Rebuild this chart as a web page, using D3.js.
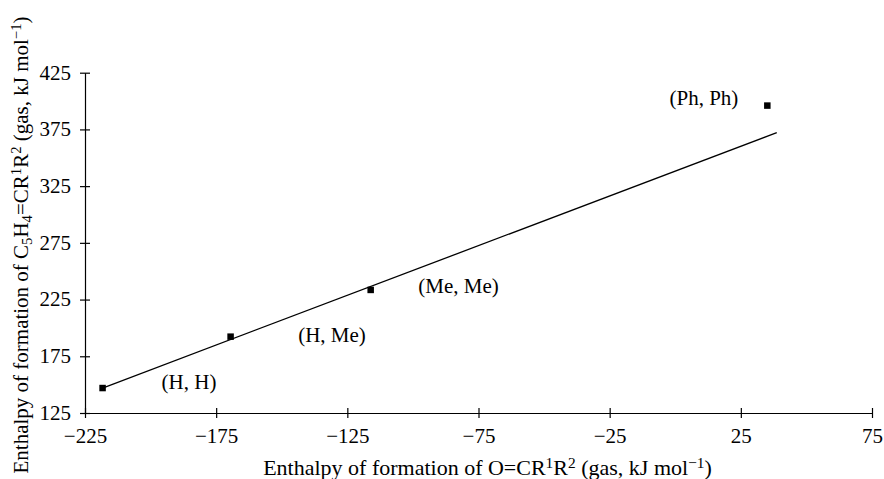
<!DOCTYPE html>
<html>
<head>
<meta charset="utf-8">
<script src="https://cdn.jsdelivr.net/npm/d3@7"></script>
<style>
  html, body { margin: 0; padding: 0; background: #fff; }
  svg text { font-family: "Liberation Serif", "Times New Roman", serif; fill: #000; }
</style>
</head>
<body>
<svg id="chart" width="884" height="479"></svg>
<script>
// ---- data ----
const pointLabels = ["(H, H)", "(H, Me)", "(Me, Me)", "(Ph, Ph)"];
const carbonylH = [-218.3, -169.5, -116.1, 35.1];      // x: O=CR1R2
const fulveneH  = [147.0, 192.3, 233.5, 396.0];        // y: C5H4=CR1R2
const trendX = [-218.3, 38.7];
const trendY = [147.0, 372.2];
const xTicks = [-225, -175, -125, -75, -25, 25, 75];
const xTickLabels = ["\u2212225", "\u2212175", "\u2212125", "\u221275", "\u221225", "25", "75"];
const yTicks = [125, 175, 225, 275, 325, 375, 425];
const yTickLabels = ["125", "175", "225", "275", "325", "375", "425"];

// ---- layout ----
const fontSize = 21;
const labelOffsets = [
  { dx: 59, dy: 1, anchor: "start" },
  { dx: 67.6, dy: 5, anchor: "start" },
  { dx: 47.6, dy: 3.3, anchor: "start" },
  { dx: -29, dy: -0.7, anchor: "end" }
];

const svg = d3.select("#chart");
const x = d3.scaleLinear().domain([-225, 75]).range([85, 872]);
const y = d3.scaleLinear().domain([125, 425]).range([413, 72.7]);

// X axis
const xAxis = d3.axisBottom(x)
  .tickValues(xTicks)
  .tickFormat((d, i) => xTickLabels[i])
  .tickSizeInner(5).tickSizeOuter(0).tickPadding(10);
const gx = svg.append("g").attr("transform", `translate(0,${y(125)})`).call(xAxis);
gx.select(".domain").attr("stroke", "#000").attr("stroke-width", 1.2);
gx.selectAll(".tick line").attr("y1", -5).attr("y2", 5).attr("stroke", "#000").attr("stroke-width", 1.2);
gx.selectAll(".tick text").attr("font-size", fontSize).attr("dy", null).attr("y", 30);

// Y axis
const yAxis = d3.axisLeft(y)
  .tickValues(yTicks)
  .tickFormat((d, i) => yTickLabels[i])
  .tickSizeInner(5).tickSizeOuter(0).tickPadding(14);
const gy = svg.append("g").attr("transform", `translate(${x(-225)},0)`).call(yAxis);
gy.select(".domain").attr("stroke", "#000").attr("stroke-width", 1.2);
gy.selectAll(".tick line").attr("x1", -5).attr("x2", 5).attr("stroke", "#000").attr("stroke-width", 1.2);
gy.selectAll(".tick text").attr("font-size", fontSize).attr("x", -14).attr("dy", "0.3em");

// trend line
const line = d3.line().x(d => x(d[0])).y(d => y(d[1]));
svg.append("path")
  .datum(trendX.map((v, i) => [v, trendY[i]]))
  .attr("d", line)
  .attr("fill", "none")
  .attr("stroke", "#000")
  .attr("stroke-width", 1.3);

// points
const ms = 6.5;
svg.selectAll("rect.pt")
  .data(carbonylH.map((v, i) => [v, fulveneH[i]]))
  .join("rect")
  .attr("class", "pt")
  .attr("x", d => x(d[0]) - ms / 2)
  .attr("y", d => y(d[1]) - ms / 2)
  .attr("width", ms).attr("height", ms)
  .attr("fill", "#000");

// point labels
svg.selectAll("text.plabel")
  .data(pointLabels)
  .join("text")
  .attr("class", "plabel")
  .attr("x", (d, i) => x(carbonylH[i]) + labelOffsets[i].dx)
  .attr("y", (d, i) => y(fulveneH[i]) + labelOffsets[i].dy)
  .attr("text-anchor", (d, i) => labelOffsets[i].anchor)
  .attr("font-size", fontSize)
  .text(d => d);

// X axis title
const xfs = 22;
const xt = svg.append("text")
  .attr("x", (265 + 710) / 2).attr("y", 475)
  .attr("text-anchor", "middle").attr("font-size", xfs);
xt.append("tspan").text("Enthalpy of formation of O=CR");
xt.append("tspan").attr("font-size", xfs * 0.7).attr("dy", -7).text("1");
xt.append("tspan").attr("dy", 7).text("R");
xt.append("tspan").attr("font-size", xfs * 0.7).attr("dy", -7).text("2");
xt.append("tspan").attr("dy", 7).text(" (gas, kJ mol");
xt.append("tspan").attr("font-size", xfs * 0.7).attr("dy", -7).text("\u22121");
xt.append("tspan").attr("dy", 7).text(")");

// Y axis title
const yt = svg.append("text")
  .attr("transform", "translate(28,245) rotate(-90)")
  .attr("text-anchor", "middle").attr("font-size", fontSize);
yt.append("tspan").text("Enthalpy of formation of C");
yt.append("tspan").attr("font-size", fontSize * 0.7).attr("dy", 4).text("5");
yt.append("tspan").attr("dy", -4).text("H");
yt.append("tspan").attr("font-size", fontSize * 0.7).attr("dy", 4).text("4");
yt.append("tspan").attr("dy", -4).text("=CR");
yt.append("tspan").attr("font-size", fontSize * 0.7).attr("dy", -7).text("1");
yt.append("tspan").attr("dy", 7).text("R");
yt.append("tspan").attr("font-size", fontSize * 0.7).attr("dy", -7).text("2");
yt.append("tspan").attr("dy", 7).text(" (gas, kJ mol");
yt.append("tspan").attr("font-size", fontSize * 0.7).attr("dy", -7).text("\u22121");
yt.append("tspan").attr("dy", 7).text(")");
</script>
</body>
</html>
